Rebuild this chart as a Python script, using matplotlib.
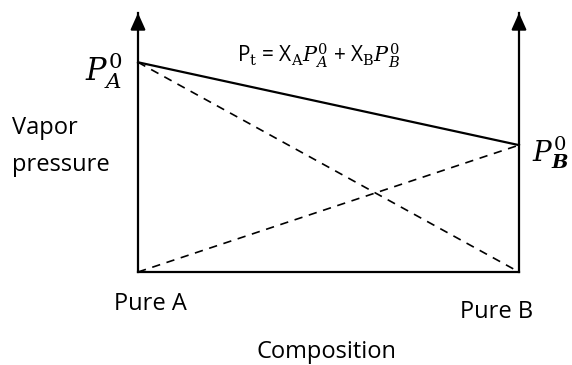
import matplotlib

matplotlib.use("Agg")
import matplotlib.pyplot as plt

# composition axis: mole fraction of B, 0 = pure A, 1 = pure B
x_b = [0.0, 1.0]
p_a0 = 1.0    # vapor pressure of pure A (relative)
p_b0 = 0.605  # vapor pressure of pure B (relative)
y_top = 1.235

partial_a = [p_a0 * (1 - x) for x in x_b]
partial_b = [p_b0 * x for x in x_b]
total = [a + b for a, b in zip(partial_a, partial_b)]

plt.rcParams["font.family"] = ["Open Sans", "DejaVu Sans"]
plt.rcParams["mathtext.fontset"] = "dejavuserif"

W, H = 572, 365
fig = plt.figure(figsize=(W / 100, H / 100), dpi=100)
ax = fig.add_axes([138 / W, (H - 272) / H, (519 - 138) / W, (272 - 13) / H])
ax.set_xlim(0, 1)
ax.set_ylim(0, y_top)
ax.set_xticks([])
ax.set_yticks([])
ax.spines["top"].set_visible(False)
for side in ("left", "right", "bottom"):
    ax.spines[side].set_linewidth(1.6)
    ax.spines[side].set_color("black")

ax.plot(x_b, total, color="black", lw=1.6, clip_on=False)
ax.plot(x_b, partial_a, color="black", lw=1.2, ls=(0, (5, 4)), clip_on=False)
ax.plot(x_b, partial_b, color="black", lw=1.2, ls=(0, (5, 4)), clip_on=False)

# arrow heads on both vertical axes
for xa in x_b:
    ax.annotate("", xy=(xa, y_top), xytext=(xa, y_top - 0.06),
                arrowprops=dict(arrowstyle="-|>,head_length=1.0,head_width=0.45",
                                color="black", lw=1.6, shrinkA=0, shrinkB=0),
                annotation_clip=False)

fs = 17
fig.text(104 / W, 1 - 71 / H, r"$P_A^0$", fontsize=22, ha="center", va="center")
fig.text(569 / W, 1 - 153 / H, r"$P_{\mathbfit{B}}^0$", fontsize=20, ha="right", va="center")
fig.text(12 / W, 1 - 128 / H, "Vapor", fontsize=fs, ha="left", va="center")
fig.text(12 / W, 1 - 165 / H, "pressure", fontsize=fs, ha="left", va="center")
fig.text(319 / W, 1 - 56 / H,
         r"P$_\mathrm{t}$ = X$_\mathrm{A}$$P_A^0$ + X$_\mathrm{B}$$P_B^0$",
         fontsize=15, ha="center", va="center")
fig.text(150 / W, 1 - 304 / H, "Pure A", fontsize=fs, ha="center", va="center")
fig.text(497 / W, 1 - 312 / H, "Pure B", fontsize=fs, ha="center", va="center")
fig.text(326 / W, 1 - 352 / H, "Composition", fontsize=fs, ha="center", va="center")

fig.savefig("out.png", dpi=100)
